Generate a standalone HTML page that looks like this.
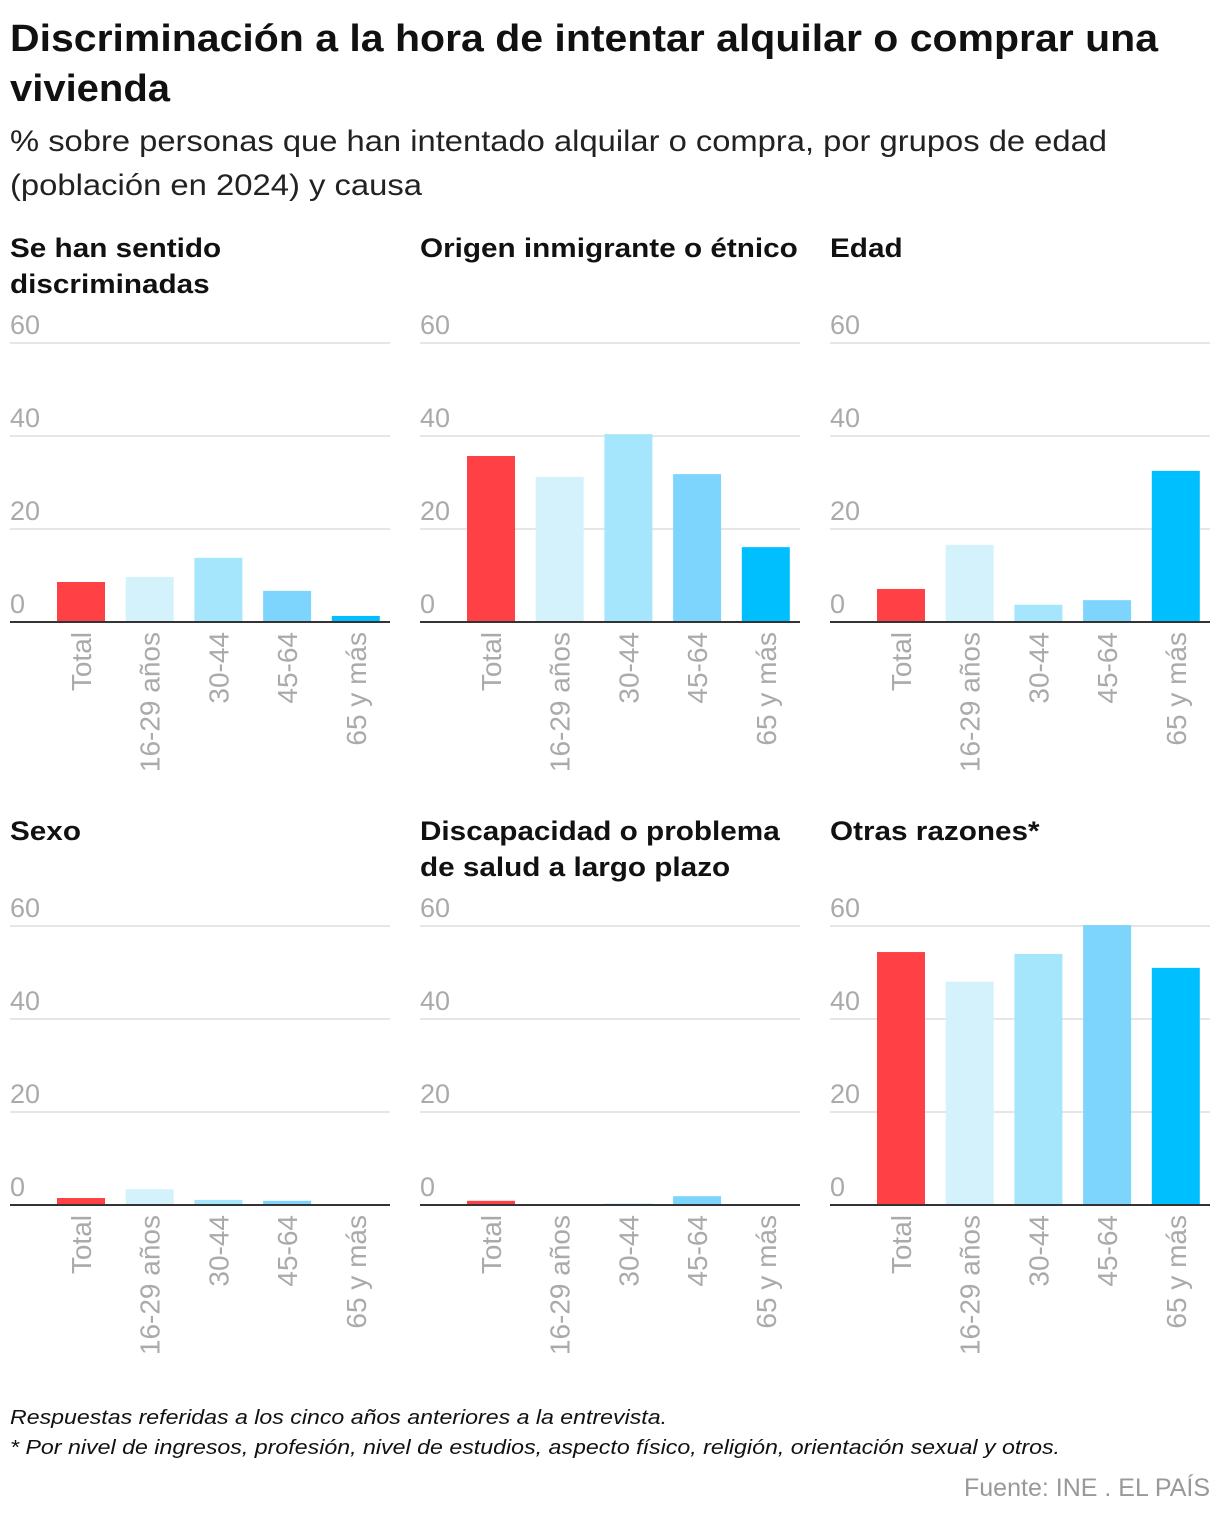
<!DOCTYPE html>
<html><head><meta charset="utf-8">
<style>
html,body{margin:0;padding:0;background:#fff;}
svg{display:block;font-family:"Liberation Sans",sans-serif;}
</style></head>
<body>
<svg id="chart" width="1220" height="1516" viewBox="0 0 1220 1516" xmlns="http://www.w3.org/2000/svg">
<text x="10" y="51" font-size="38" font-weight="bold" fill="#111" textLength="1148" lengthAdjust="spacingAndGlyphs">Discriminación a la hora de intentar alquilar o comprar una</text>
<text x="10" y="101" font-size="38" font-weight="bold" fill="#111" textLength="160" lengthAdjust="spacingAndGlyphs">vivienda</text>
<text x="10" y="151" font-size="30" fill="#222" textLength="1097" lengthAdjust="spacingAndGlyphs">% sobre personas que han intentado alquilar o compra, por grupos de edad</text>
<text x="10" y="195" font-size="30" fill="#222" textLength="412" lengthAdjust="spacingAndGlyphs">(población en 2024) y causa</text>
<g id="panels"></g>
<text x="10" y="1424" font-size="20" font-style="italic" fill="#111" textLength="657" lengthAdjust="spacingAndGlyphs">Respuestas referidas a los cinco años anteriores a la entrevista.</text>
<text x="10" y="1454" font-size="20" font-style="italic" fill="#111" textLength="1050" lengthAdjust="spacingAndGlyphs">* Por nivel de ingresos, profesión, nivel de estudios, aspecto físico, religión, orientación sexual y otros.</text>
<text x="964" y="1496" font-size="25" fill="#999" textLength="246" lengthAdjust="spacingAndGlyphs">Fuente: INE . EL PAÍS</text>
</svg>
<script>
const categories = ["Total","16-29 años","30-44","45-64","65 y más"];
const panelTitles = [["Se han sentido","discriminadas"],["Origen inmigrante o étnico"],["Edad"],["Sexo"],["Discapacidad o problema","de salud a largo plazo"],["Otras razones*"]];
const discriminadas = [8.6,9.7,13.8,6.7,1.3];
const origen = [35.7,31.2,40.4,31.8,16.1];
const edad = [7.1,16.6,3.7,4.7,32.5];
const sexo = [1.5,3.4,1.1,0.9,0];
const discapacidad = [0.9,0.2,0.3,1.9,0];
const otras = [54.4,48,54,60.2,51];
const ticks = [0,20,40,60];
const seriesList = [discriminadas,origen,edad,sexo,discapacidad,otras];
const colors = ["#ff4146","#d4f2fb","#a6e6fd","#7dd5fe","#00bfff"];
const NS = "http://www.w3.org/2000/svg";
const root = document.getElementById("panels");
function mk(tag, attrs, parent){const e=document.createElementNS(NS,tag);for(const k in attrs)e.setAttribute(k,attrs[k]);parent.appendChild(e);return e;}
seriesList.forEach((vals,p)=>{
  const col=p%3,row=Math.floor(p/3);
  const x0=10+col*410, w=380;
  const base=row===0?622:1205;
  const yScale=v=>base-v*(279/60);
  const xScale=i=>x0+71+i*68.7;
  const g=mk("g",{},root);
  
  
  const ty=row===0?257:840;
  panelTitles[p].forEach((t,li)=>{
    const tt=mk("text",{x:x0,y:ty+li*36,"font-size":27,"font-weight":"bold",fill:"#111","transform":`translate(${x0} 0) scale(1.1 1) translate(${-x0} 0)`},g);
    
    
    tt.textContent=t;
  });
  ticks.forEach(t=>{
    const y=yScale(t);
    if(t>0){const l=mk("line",{x1:x0,x2:x0+w,y1:y,y2:y,stroke:"#ddd","stroke-width":1.5},g);
      
      }
    const tl=mk("text",{x:x0,y:y-9,"font-size":27,fill:"#aaa"},g);
    
    
    tl.textContent=t;
  });
  vals.forEach((v,i)=>{
    const r=mk("rect",{x:xScale(i)-24,y:yScale(v),width:48,height:base-yScale(v),fill:colors[i]},g);
    
    
    const cx=xScale(i)+10, cy=base+10;
    const lb=mk("text",{x:cx,y:cy,"font-size":28,fill:"#aaa","text-anchor":"end",transform:`rotate(-90 ${cx} ${cy})`},g);
    
    
    lb.textContent=categories[i];
  });
  const ax=mk("line",{x1:x0,x2:x0+w,y1:base,y2:base,stroke:"#333","stroke-width":2},g);
  
  
});
</script>
</body></html>
